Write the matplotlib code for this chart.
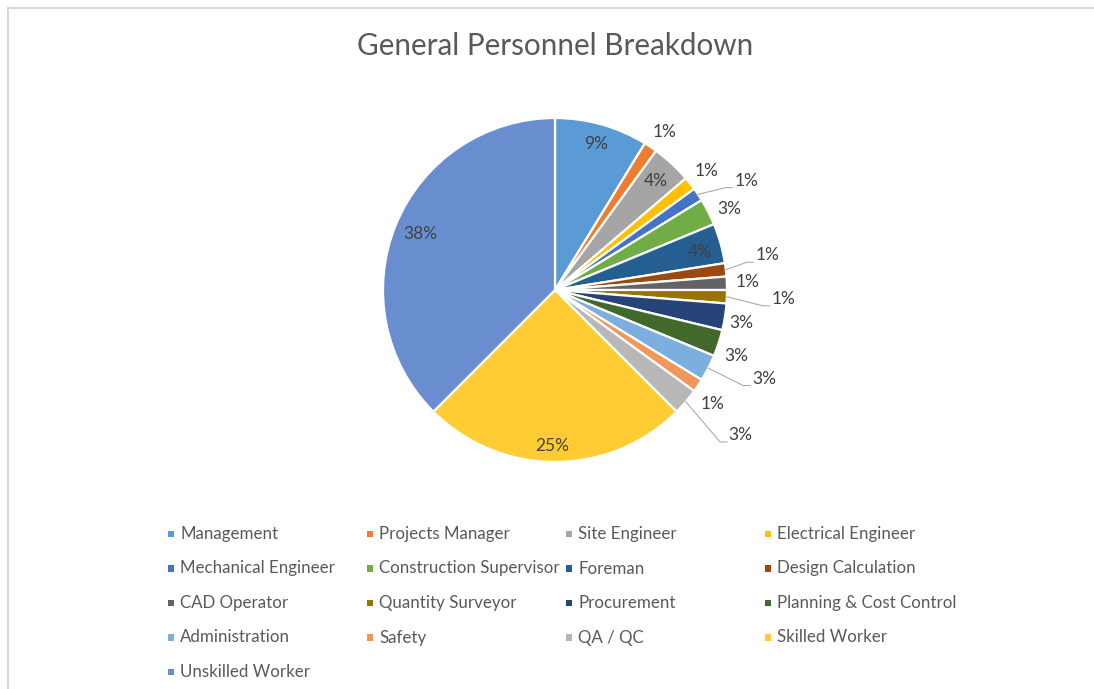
import numpy as np
import matplotlib
matplotlib.use("Agg")
import matplotlib.pyplot as plt
from matplotlib.patches import Rectangle
from matplotlib.lines import Line2D

# ---------------- data ----------------
title = "General Personnel Breakdown"
categories = [
    "Management", "Projects Manager", "Site Engineer", "Electrical Engineer",
    "Mechanical Engineer", "Construction Supervisor", "Foreman", "Design Calculation",
    "CAD Operator", "Quantity Surveyor", "Procurement", "Planning & Cost Control",
    "Administration", "Safety", "QA / QC", "Skilled Worker",
    "Unskilled Worker",
]
counts = [7, 1, 3, 1, 1, 2, 3, 1, 1, 1, 2, 2, 2, 1, 2, 20, 30]

# ---------------- styles ----------------
colors = [
    "#5B9BD5", "#ED7D31", "#A5A5A5", "#FFC000", "#4472C4", "#70AD47",
    "#255E91", "#9E480E", "#636363", "#997300", "#264478", "#43682B",
    "#7CAFDD", "#F1975A", "#B7B7B7", "#FFCD33", "#698ED0",
]
# (radial factor, angular nudge in degrees clockwise, leader line)
label_layout = [
    (0.88, 0, False), (1.12, 1, False), (0.86, 0, False), (1.12, 0, False),
    (1.28, 4, True), (1.12, 2, False), (0.87, 1, False), (1.25, -2.5, True),
    (1.12, 0, False), (1.33, 0, True), (1.10, 1, False), (1.12, 2, False),
    (1.32, -4, True), (1.13, 2, False), (1.37, -2.5, True), (0.91, 1, False),
    (0.85, 0, False),
]

plt.rcParams["font.family"] = ["Lato", "DejaVu Sans"]

W, H = 1094, 689
fig = plt.figure(figsize=(W / 100, H / 100), dpi=100)
fig.patch.set_facecolor("white")

cx, cy, R = 555, 290, 172
ax = fig.add_axes([(cx - R) / W, (H - cy - R) / H, 2 * R / W, 2 * R / H])
wedges, _ = ax.pie(counts, colors=colors, startangle=90, counterclock=False,
                   radius=1, wedgeprops=dict(edgecolor="white", linewidth=1.6))
ax.set_xlim(-1, 1)
ax.set_ylim(-1, 1)
ax.set_aspect("equal")
ax.axis("off")

total = sum(counts)
for w, n, (rf, dang, leader) in zip(wedges, counts, label_layout):
    pct = n / total * 100
    txt = f"{int(pct + 0.5)}%"
    mid = (w.theta1 + w.theta2) / 2
    phi = np.deg2rad(mid - dang)
    lx, ly = rf * np.cos(phi), rf * np.sin(phi)
    ax.text(lx, ly, txt, ha="center", va="center", fontsize=12.5,
            color="#404040", clip_on=False)
    if leader:
        m = np.deg2rad(mid)
        x0, y0 = np.cos(m), np.sin(m)
        x2, y2 = lx - 0.08, ly - 0.04
        x1 = x2 - 0.04
        ax.plot([x0, x1, x2], [y0, y2, y2], color="#A6A6A6", lw=0.75,
                clip_on=False)

fig.text(cx / W, 1 - 46 / H, title, ha="center", va="center",
         fontsize=21.3, color="#595959")

# legend (4 columns, row-major)
for i, (cat, col) in enumerate(zip(categories, colors)):
    r, c = divmod(i, 4)
    mx = 171 + c * 199
    my = 534 + r * 34.5
    fig.add_artist(Rectangle(((mx - 3.2) / W, 1 - (my + 3.2) / H), 6.4 / W, 6.4 / H,
                             transform=fig.transFigure, color=col, lw=0))
    fig.text((mx + 9) / W, 1 - my / H, cat, ha="left", va="center",
             fontsize=12.2, color="#595959")

# chart frame (top and left edges visible)
fig.add_artist(Line2D([8 / W, 1], [1 - 8 / H, 1 - 8 / H],
                      transform=fig.transFigure, color="#D0D0D0", lw=1.2))
fig.add_artist(Line2D([8 / W, 8 / W], [0, 1 - 8 / H],
                      transform=fig.transFigure, color="#D0D0D0", lw=1.2))

fig.savefig("out.png", dpi=100, facecolor="white")
